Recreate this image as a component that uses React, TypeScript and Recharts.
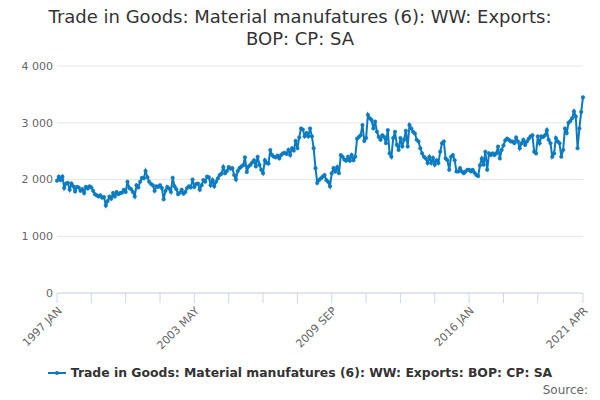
import React from "react";
import { LineChart, Line, XAxis, YAxis, CartesianGrid } from "recharts";

// monthly values, 1997 JAN .. 2021 APR
const y1997 = [1980, 2050, 1990, 2050, 1850, 1930, 1940, 1820, 1930, 1880, 1790, 1870];
const y1998 = [1860, 1800, 1830, 1760, 1870, 1840, 1880, 1860, 1800, 1740, 1720, 1700];
const y1999 = [1720, 1680, 1690, 1540, 1620, 1700, 1660, 1760, 1700, 1780, 1740, 1760];
const y2000 = [1770, 1820, 1780, 1960, 1850, 1830, 1780, 1700, 1900, 1860, 1960, 2030];
const y2001 = [2020, 2150, 2040, 1960, 1920, 1900, 1800, 1880, 1870, 1900, 1850, 1650];
const y2002 = [1800, 1870, 1840, 1780, 2030, 1880, 1830, 1740, 1770, 1820, 1750, 1780];
const y2003 = [1850, 1880, 1860, 2000, 1870, 1920, 1930, 1820, 1900, 1990, 1960, 2050];
const y2004 = [2040, 1900, 1990, 1880, 1960, 2020, 2080, 2100, 2220, 2110, 2150, 2220];
const y2005 = [2190, 2200, 2080, 2000, 2150, 2200, 2230, 2250, 2390, 2130, 2230, 2260];
const y2006 = [2300, 2340, 2230, 2400, 2260, 2170, 2110, 2340, 2290, 2280, 2520, 2430];
const y2007 = [2400, 2390, 2420, 2370, 2430, 2460, 2470, 2450, 2520, 2430, 2550, 2510];
const y2008 = [2680, 2550, 2740, 2900, 2880, 2760, 2820, 2760, 2900, 2760, 2550, 2200];
const y2009 = [1940, 1990, 2020, 2050, 2080, 1990, 1960, 1880, 2110, 2200, 2140, 2220];
const y2010 = [2110, 2430, 2400, 2350, 2330, 2400, 2330, 2430, 2340, 2400, 2720, 2750];
const y2011 = [2780, 2960, 2680, 2730, 3140, 3080, 3050, 2900, 3020, 2840, 2750, 2700];
const y2012 = [2780, 2750, 2640, 2870, 2460, 2400, 2730, 2840, 2610, 2520, 2730, 2580];
const y2013 = [2700, 2860, 2580, 2960, 2900, 2840, 2810, 2700, 2670, 2550, 2460, 2400];
const y2014 = [2370, 2290, 2400, 2290, 2380, 2260, 2340, 2290, 2490, 2640, 2670, 2370];
const y2015 = [2340, 2170, 2400, 2430, 2340, 2140, 2140, 2200, 2140, 2110, 2140, 2170];
const y2016 = [2170, 2140, 2170, 2120, 2080, 2060, 2250, 2370, 2260, 2490, 2170, 2460];
const y2017 = [2430, 2460, 2430, 2460, 2580, 2370, 2520, 2600, 2690, 2720, 2700, 2670];
const y2018 = [2670, 2640, 2740, 2670, 2550, 2640, 2700, 2610, 2670, 2720, 2760, 2780];
const y2019 = [2490, 2460, 2760, 2640, 2760, 2750, 2780, 2870, 2700, 2640, 2400, 2460];
const y2020 = [2730, 2670, 2640, 2400, 2520, 2900, 2820, 3000, 3030, 3080, 3200, 3110];
const y2021 = [2550, 2900, 3190, 3450];

const years = [
  y1997, y1998, y1999, y2000, y2001, y2002, y2003, y2004, y2005, y2006, y2007, y2008, y2009,
  y2010, y2011, y2012, y2013, y2014, y2015, y2016, y2017, y2018, y2019, y2020, y2021,
];
const START_YEAR = 1997;
const MONTHS = ["JAN", "FEB", "MAR", "APR", "MAY", "JUN", "JUL", "AUG", "SEP", "OCT", "NOV", "DEC"];

const xTicks = [0, 19, 38, 57, 76, 95, 114, 133, 152, 171, 190, 209, 228, 247, 266, 291];
const labelledTicks = [0, 76, 152, 228, 291];
const yTicks = [0, 1000, 2000, 3000, 4000];

const SERIES = "Trade in Goods: Material manufatures (6): WW: Exports: BOP: CP: SA";
const COLOR = "#0b7bc1";
const FONT = "'DejaVu Sans', sans-serif";

const monthLabel = (i: number) => `${START_YEAR + Math.floor(i / 12)} ${MONTHS[i % 12]}`;
const fmt = (v: number) => String(v).replace(/\B(?=(\d{3})+(?!\d))/g, " ");

const data = years.flat().map((v, i) => ({ i, month: monthLabel(i), value: v }));

export default function App() {
  return (
    <div style={{ position: "absolute", left: 0, top: 0, width: 600, height: 400, background: "#fff", fontFamily: FONT }}>
      <div style={{ position: "absolute", top: 6, left: 0, width: 600, textAlign: "center", fontSize: 18, lineHeight: "22px", color: "#333" }}>
        Trade in Goods: Material manufatures (6): WW: Exports:
        <br />
        BOP: CP: SA
      </div>
      <div style={{ position: "absolute", top: 0, left: 0 }}>
        <LineChart width={600} height={400} data={data} margin={{ top: 66, right: 17, left: 0, bottom: 0 }}>
          <CartesianGrid vertical={false} stroke="#e6e6e6" />
          <XAxis
            dataKey="i"
            type="number"
            domain={[0, 291]}
            ticks={xTicks}
            interval={0}
            height={107}
            stroke="#ccd6eb"
            tickSize={10}
            tickMargin={3}
            angle={-45}
            textAnchor="end"
            tick={{ fill: "#666", fontSize: 11, fontFamily: FONT }}
            tickFormatter={(i: number) => (labelledTicks.includes(i) ? monthLabel(i) : "")}
          />
          <YAxis
            domain={[0, 4000]}
            ticks={yTicks}
            width={57}
            axisLine={false}
            tickLine={false}
            tickSize={0}
            tickMargin={4}
            tick={{ fill: "#666", fontSize: 11, fontFamily: FONT }}
            tickFormatter={fmt}
          />
          <Line
            dataKey="value"
            stroke={COLOR}
            strokeWidth={2}
            dot={{ r: 1.8, fill: COLOR, stroke: COLOR, strokeWidth: 0.5 }}
            isAnimationActive={false}
          />
        </LineChart>
      </div>
      <div style={{ position: "absolute", top: 365, left: 0, width: 600, display: "flex", justifyContent: "center", alignItems: "center" }}>
        <svg width={18} height={10} style={{ marginRight: 5 }}>
          <line x1={0} y1={5} x2={18} y2={5} stroke={COLOR} strokeWidth={2} />
          <circle cx={9} cy={5} r={2} fill={COLOR} />
        </svg>
        <span style={{ fontSize: 12.4, fontWeight: "bold", color: "#333" }}>{SERIES}</span>
      </div>
      <div style={{ position: "absolute", top: 383, right: 12, fontSize: 12, color: "#666" }}>Source:</div>
    </div>
  );
}
